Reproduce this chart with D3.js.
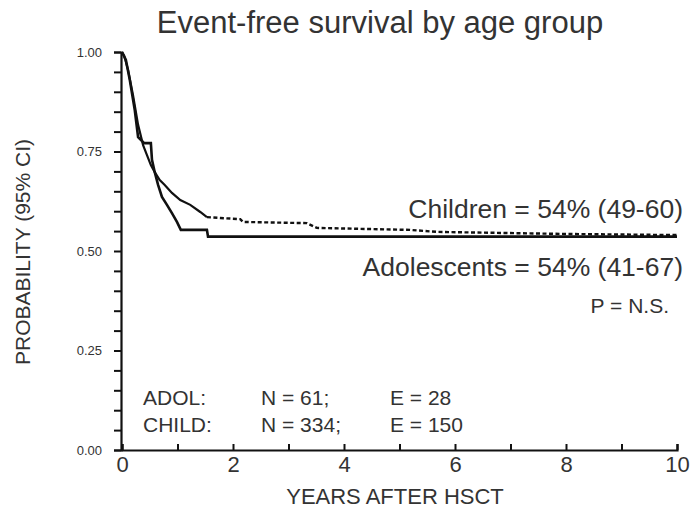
<!DOCTYPE html>
<html>
<head>
<meta charset="utf-8">
<title>Event-free survival by age group</title>
<script src="https://cdn.jsdelivr.net/npm/d3@7"></script>
<style>
  body { margin: 0; background: #fff; }
  text { font-family: "Liberation Sans", Arial, sans-serif; fill: #333; }
</style>
</head>
<body>
<script>
// survival estimates (years, probability)
var childYears = [0, 0.04, 0.11, 0.2, 0.29, 0.38, 0.45, 0.52, 0.59, 0.68, 0.77, 0.9, 1.05, 1.23, 1.41, 1.53];
var childProb  = [1.0, 0.99, 0.955, 0.89, 0.817, 0.766, 0.741, 0.716, 0.698, 0.678, 0.666, 0.646, 0.628, 0.616, 0.598, 0.585];
// later part of the children curve is drawn dotted
var childTailYears = [1.53, 1.77, 2.13, 2.18, 3.33, 3.51, 5.19, 5.68, 7.9, 10];
var childTailProb  = [0.585, 0.583, 0.58, 0.573, 0.57, 0.558, 0.553, 0.548, 0.543, 0.54];
var adolYears = [0, 0.07, 0.14, 0.23, 0.29, 0.4, 0.52, 0.54, 0.59, 0.65, 0.72, 0.81, 0.9, 0.99, 1.06, 1.53, 1.55, 10];
var adolProb  = [1.0, 0.98, 0.93, 0.854, 0.786, 0.771, 0.771, 0.729, 0.698, 0.666, 0.636, 0.616, 0.595, 0.573, 0.553, 0.553, 0.536, 0.536];

var yTicks = [0, 0.25, 0.5, 0.75, 1.0];
var xTicks = [0, 2, 4, 6, 8, 10];

var width = 691, height = 509;
var x = d3.scaleLinear().domain([0, 10]).range([122, 677]);
var y = d3.scaleLinear().domain([0, 1]).range([450, 52]);

var svg = d3.select('body').append('svg')
    .attr('width', width)
    .attr('height', height);

/* title */
svg.append('text')
    .attr('x', 380).attr('y', 33)
    .attr('text-anchor', 'middle')
    .attr('font-size', '31px')
    .text('Event-free survival by age group');

/* y axis: minor ticks every 0.05, outward */
var yAxis = d3.axisLeft(y)
    .tickValues(d3.range(0, 1.0001, 0.05))
    .tickSize(7)
    .tickFormat(function(d) {
        var r = Math.round(d * 100) / 100;
        return yTicks.indexOf(r) >= 0 ? d3.format('.2f')(r) : '';
    });
var gy = svg.append('g')
    .attr('transform', 'translate(' + 121 + ',0)')
    .call(yAxis);
gy.select('.domain').attr('stroke', '#111').attr('stroke-width', 2.2);
gy.selectAll('.tick line').attr('stroke', '#111').attr('stroke-width', 2);
gy.selectAll('.tick text')
    .attr('x', -19)
    .attr('font-size', '13px')
    .attr('fill', '#444')
    .style('font-family', '"Liberation Sans", Arial, sans-serif');

/* x axis: ticks every year pointing up, labels every 2 */
var xAxis = d3.axisBottom(x)
    .tickValues(d3.range(0, 11, 1))
    .tickSize(-6)
    .tickFormat(function(d) { return xTicks.indexOf(d) >= 0 ? d : ''; });
var gx = svg.append('g')
    .attr('transform', 'translate(0,' + 450 + ')')
    .call(xAxis);
gx.select('.domain').attr('stroke', '#111').attr('stroke-width', 2.2);
gx.selectAll('.tick line').attr('stroke', '#111').attr('stroke-width', 2);
gx.selectAll('.tick text')
    .attr('y', 6)
    .attr('font-size', '22px')
    .attr('fill', '#333')
    .style('font-family', '"Liberation Sans", Arial, sans-serif');

/* axis titles */
svg.append('text')
    .attr('transform', 'translate(30,252) rotate(-90)')
    .attr('text-anchor', 'middle')
    .attr('font-size', '21px')
    .attr('fill', '#444')
    .text('PROBABILITY (95% CI)');

svg.append('text')
    .attr('x', 395).attr('y', 504)
    .attr('text-anchor', 'middle')
    .attr('font-size', '22px')
    .text('YEARS AFTER HSCT');

/* curves */
var line = d3.line()
    .x(function(d) { return x(d[0]); })
    .y(function(d) { return y(d[1]); });

svg.append('path')
    .datum(d3.zip(adolYears, adolProb))
    .attr('d', line)
    .attr('fill', 'none')
    .attr('stroke', '#111')
    .attr('stroke-width', 2.6);

svg.append('path')
    .datum(d3.zip(childYears, childProb))
    .attr('d', line)
    .attr('fill', 'none')
    .attr('stroke', '#111')
    .attr('stroke-width', 2.2);

svg.append('path')
    .datum(d3.zip(childTailYears, childTailProb))
    .attr('d', line)
    .attr('fill', 'none')
    .attr('stroke', '#111')
    .attr('stroke-width', 2.4)
    .attr('stroke-dasharray', '4,2.5');

/* annotations */
svg.append('text')
    .attr('x', 683).attr('y', 218)
    .attr('text-anchor', 'end')
    .attr('font-size', '26.5px')
    .text('Children = 54% (49-60)');

svg.append('text')
    .attr('x', 683).attr('y', 276)
    .attr('text-anchor', 'end')
    .attr('font-size', '26.5px')
    .text('Adolescents = 54% (41-67)');

svg.append('text')
    .attr('x', 669).attr('y', 313)
    .attr('text-anchor', 'end')
    .attr('font-size', '21px')
    .text('P = N.S.');

var stats = [
    ['ADOL:', 'N = 61;', 'E = 28'],
    ['CHILD:', 'N = 334;', 'E = 150']
];
var colX = [143, 261, 390];
stats.forEach(function(row, i) {
    row.forEach(function(s, j) {
        svg.append('text')
            .attr('x', colX[j]).attr('y', 405 + i * 27)
            .attr('font-size', '21px')
            .text(s);
    });
});
</script>
</body>
</html>
